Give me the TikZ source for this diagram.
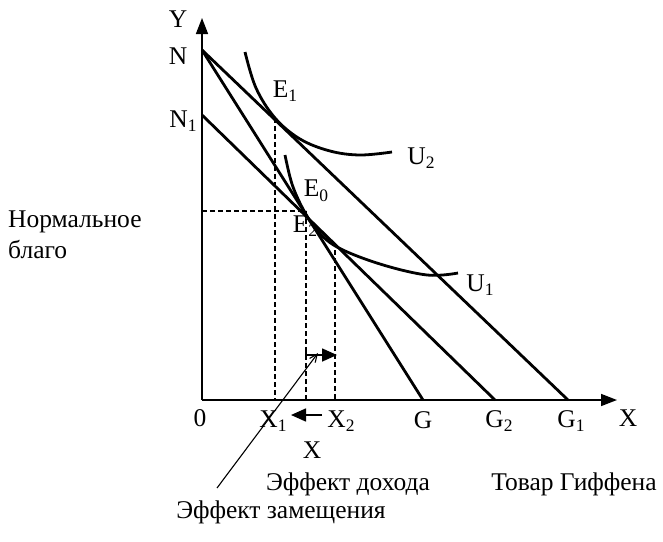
\documentclass[tikz,border=0pt]{standalone}
\usepackage{fontspec}
\setmainfont{Liberation Serif}
\usetikzlibrary{arrows.meta}
\newcommand\lo[1]{\raisebox{-0.4ex}{\fontsize{17.5}{17.5}\selectfont #1}}
\begin{document}
\begin{tikzpicture}[x=1pt,y=-1pt,
  lbl/.style={inner sep=0pt, font=\fontsize{25.5}{28}\selectfont},
  axis/.style={line width=1.6pt, -{Triangle[length=16pt,width=12pt]}},
  budget/.style={line width=2.8pt},
  indiff/.style={line width=2.8pt},
  guide/.style={line width=1.3pt, dash pattern=on 5pt off 3pt},
  effarrow/.style={line width=1.6pt, -{Triangle[length=15pt,width=13pt]}},
  pointer/.style={line width=1.1pt, -{Straight Barb[length=8pt,width=7pt]}}]
\useasboundingbox (0,0) rectangle (663,541);
% points
\coordinate (O) at (202,400);
\coordinate (Yend) at (202,18);
\coordinate (Xend) at (617,400);
\coordinate (N) at (202,50);
\coordinate (N1) at (202,115);
\coordinate (G) at (423,400);
\coordinate (G2) at (495,400);
\coordinate (G1) at (568,400);
\coordinate (E1p) at (275,118);
\coordinate (X1p) at (275,400);
\coordinate (Hp) at (202,211);
\coordinate (E0p) at (306,211);
\coordinate (X0p) at (306,400);
\coordinate (E2p) at (335,250);
\coordinate (X2p) at (335,400);
\coordinate (Sa) at (306,347);
\coordinate (Sb) at (306,355);
\coordinate (Sc) at (337,355);
\coordinate (La) at (322,415);
\coordinate (Lb) at (291,415);
\coordinate (Pa) at (217,488);
\coordinate (Pb) at (318,353);
% axes
\draw[axis] (O) -- (Yend);
\draw[axis] (O) -- (Xend);
% budget lines
\draw[budget] (N) -- (G);
\draw[budget] (N) -- (G1);
\draw[budget] (N1) -- (G2);
% indifference curves
\draw[indiff] plot[smooth, tension=0.6] coordinates {(245,52) (256,88) (275,118) (300,139) (330,151) (360,155) (392,152)};
\draw[indiff] plot[smooth, tension=0.6] coordinates {(285,155) (292,184) (303,209) (316,229) (337,247) (380,264) (427,275) (458,273)};
% guides
\draw[guide] (E1p) -- (X1p);
\draw[guide] (Hp) -- (E0p);
\draw[guide] (E0p) -- (X0p);
\draw[guide] (E2p) -- (X2p);
% effect arrows
\draw[effarrow] (Sa) -- (Sb) -- (Sc);
\draw[effarrow] (La) -- (Lb);
\draw[pointer] (Pa) -- (Pb);
% labels
\node[lbl] (lY) at (178,19) {Y};
\node[lbl] (lN) at (178,56) {N};
\node[lbl] (lN1) at (183,121) {N\lo{1}};
\node[lbl] (l0) at (200,418) {0};
\node[lbl] (lX1) at (273,421) {X\lo{1}};
\node[lbl] (lX2) at (341,421) {X\lo{2}};
\node[lbl] (lG) at (423,420) {G};
\node[lbl] (lG2) at (499,421) {G\lo{2}};
\node[lbl] (lG1) at (571,421) {G\lo{1}};
\node[lbl] (lX) at (628,418) {X};
\node[lbl] (lE1) at (285,91) {E\lo{1}};
\node[lbl] (lE0) at (316,191) {E\lo{0}};
\node[lbl] (lE2) at (305,226) {E\lo{2}};
\node[lbl] (lU2) at (421,158) {U\lo{2}};
\node[lbl] (lU1) at (480,285) {U\lo{1}};
\node[lbl] (lXb) at (312,450) {X};
\node[lbl] (lInc) at (348,484) {Эффект дохода};
\node[lbl] (lGif) at (574,484) {Товар Гиффена};
\node[lbl] (lSub) at (281,512) {Эффект замещения};
\node[lbl, anchor=west] (lNorm1) at (8,222) {Нормальное};
\node[lbl, anchor=west] (lNorm2) at (8,249) {благо};
\end{tikzpicture}
\end{document}
